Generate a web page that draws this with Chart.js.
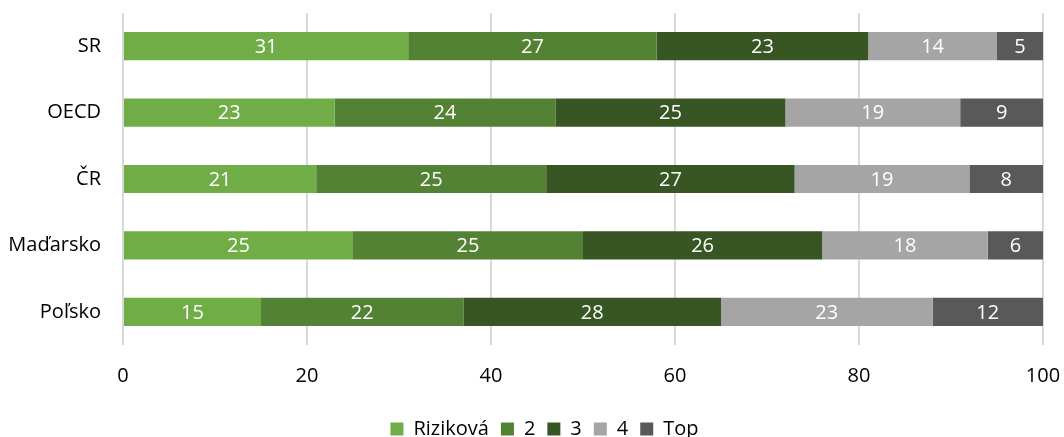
<!DOCTYPE html>
<html>
<head>
<meta charset="utf-8">
<script src="https://cdn.jsdelivr.net/npm/chart.js@4/dist/chart.umd.min.js"></script>
<style>
  html, body { margin: 0; padding: 0; background: #fff; }
  #wrap { width: 1064px; height: 437px; }
</style>
</head>
<body>
<div id="wrap"><canvas id="chart"></canvas></div>
<script>
// data
const countries = ["SR", "OECD", "ČR", "Maďarsko", "Poľsko"];
const rizikova = [31, 23, 21, 25, 15];
const level2 = [27, 24, 25, 25, 22];
const level3 = [23, 25, 27, 26, 28];
const level4 = [14, 19, 19, 18, 23];
const levelTop = [5, 9, 8, 6, 12];
const xTicks = [0, 20, 40, 60, 80, 100];

const FONT = "'Open Sans', 'Noto Sans', sans-serif";

// white value labels in the middle of each segment
const segmentLabels = {
  id: "segmentLabels",
  afterDatasetsDraw(chart) {
    const ctx = chart.ctx;
    ctx.save();
    ctx.fillStyle = "#ffffff";
    ctx.font = "20px " + FONT;
    ctx.textAlign = "center";
    ctx.textBaseline = "middle";
    chart.data.datasets.forEach((ds, i) => {
      chart.getDatasetMeta(i).data.forEach((bar, j) => {
        const p = bar.getProps(["x", "y", "base"], true);
        ctx.fillText(ds.data[j], (p.x + p.base) / 2, p.y + 1);
      });
    });
    ctx.restore();
  }
};

// legend sits a bit right of centre in the original
const legendShift = {
  id: "legendShift",
  afterLayout(chart) {
    chart.legend.left += 23;
    chart.legend.right += 23;
  }
};

function ds(label, data, color) {
  return {
    label: label,
    data: data,
    backgroundColor: color,
    borderColor: "#ffffff",
    borderWidth: { left: 1, right: 0, top: 0, bottom: 0 },
    barPercentage: 0.85,
    categoryPercentage: 0.5
  };
}

new Chart(document.getElementById("chart"), {
  type: "bar",
  data: {
    labels: countries,
    datasets: [
      ds("Riziková", rizikova, "#70AD47"),
      ds("2", level2, "#548235"),
      ds("3", level3, "#375623"),
      ds("4", level4, "#A5A5A5"),
      ds("Top", levelTop, "#595959")
    ]
  },
  options: {
    indexAxis: "y",
    responsive: true,
    maintainAspectRatio: false,
    animation: false,
    layout: { padding: { top: 13, right: 21, bottom: -12, left: 0 } },
    scales: {
      x: {
        stacked: true,
        min: 0,
        max: 100,
        afterBuildTicks: (axis) => { axis.ticks = xTicks.map(v => ({ value: v })); },
        grid: { color: "#D9D9D9", lineWidth: 2, drawTicks: false },
        border: { display: false },
        ticks: { color: "#000", font: { family: FONT, size: 20 }, padding: 19 },
        afterFit: (axis) => {
          axis.paddingLeft = 0;
          axis.paddingRight = 0;
        }
      },
      y: {
        stacked: true,
        grid: { display: false, drawTicks: false },
        border: { display: false },
        ticks: { color: "#000", font: { family: FONT, size: 20 }, padding: 22 },
        afterFit: (axis) => {
          axis.width = 123;
          axis.paddingTop = 0;
          axis.paddingBottom = 0;
        }
      }
    },
    plugins: {
      legend: {
        position: "bottom",
        labels: {
          color: "#000",
          font: { family: FONT, size: 20 },
          boxWidth: 13,
          boxHeight: 13,
          padding: 12,
          generateLabels: (chart) => chart.data.datasets.map((d, i) => ({
            text: d.label,
            fillStyle: d.backgroundColor,
            strokeStyle: d.backgroundColor,
            lineWidth: 0,
            datasetIndex: i
          }))
        }
      },
      tooltip: { enabled: false }
    }
  },
  plugins: [segmentLabels, legendShift]
});
</script>
</body>
</html>
